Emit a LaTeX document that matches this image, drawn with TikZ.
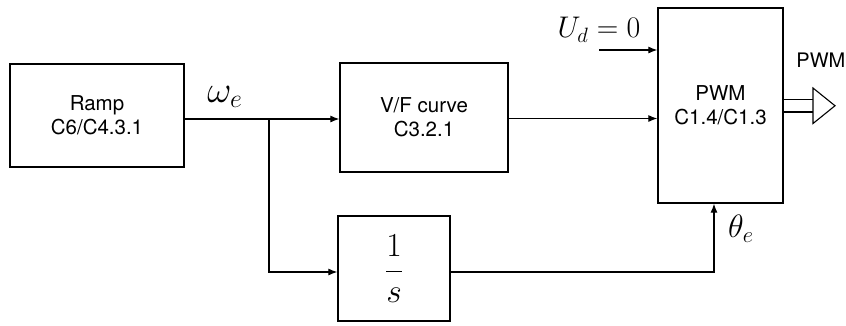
\documentclass[tikz,border=0pt]{standalone}
\usepackage{fontspec}
\usepackage{graphicx}
\setmainfont{TeX Gyre Heros}
\usetikzlibrary{arrows.meta}
\begin{document}
\begin{tikzpicture}[x=1pt,y=-1pt,
  blk/.style={draw,line width=1.3pt,align=center,inner sep=0pt,font=\fontsize{20.5}{24}\selectfont},
  conn/.style={line width=1.1pt,-{Latex[length=9pt,width=7pt]}},
  wire/.style={line width=1.1pt},
  lbl/.style={font=\fontsize{25}{28}\selectfont,inner sep=0pt}]
\useasboundingbox (0,0) rectangle (846,325);
\node[blk,minimum width=174pt,minimum height=103pt] (ramp) at (97,115.5) {Ramp\\C6/C4.3.1};
\node[blk,minimum width=168pt,minimum height=109pt] (vf) at (424,117.5) {V/F curve\\C3.2.1};
\node[blk,minimum width=125pt,minimum height=195pt] (pwm) at (720.5,105.5) {PWM\\C1.4/C1.3};
\node[blk,minimum width=112pt,minimum height=105pt] (int) at (394,268.5) {\fontsize{25}{28}\selectfont\scalebox{1.35}{$\displaystyle\frac{1}{s}$}};
\coordinate (rout) at (184,119);
\coordinate (jn) at (269,119);
\coordinate (ud) at (599,50);
\coordinate (th) at (714,272);
\node[lbl] (we) at (225,97) {\scalebox{1.5}{$\omega_e$}};
\node[lbl] (udl) at (599,30) {\scalebox{1.2}{$U_d=0$}};
\node[lbl] (thl) at (741,229) {\scalebox{1.3}{$\theta_e$}};
\node[font=\fontsize{20}{22}\selectfont,inner sep=0pt,anchor=east] (pwml) at (845.5,60) {PWM};
\draw[conn] (rout) -- (vf.west |- rout);
\draw[conn] (jn) |- (int.west |- th);
\draw[conn] (vf.east |- 0,118.5) -- (pwm.west |- 0,118.5);
\draw[conn] (ud) -- (pwm.west |- ud);
\draw[conn] (int.east |- th) -| (pwm.south -| th);
\coordinate (a1) at (783,99.5);
\coordinate (a2) at (783,112);
\draw[wire] (a1) -- (813,99.5) (a2) -- (813,112);
\draw[line width=1.1pt,fill=white,line join=miter] (813,88) -- (835,105.75) -- (813,123.5) -- cycle;
\end{tikzpicture}
\end{document}
